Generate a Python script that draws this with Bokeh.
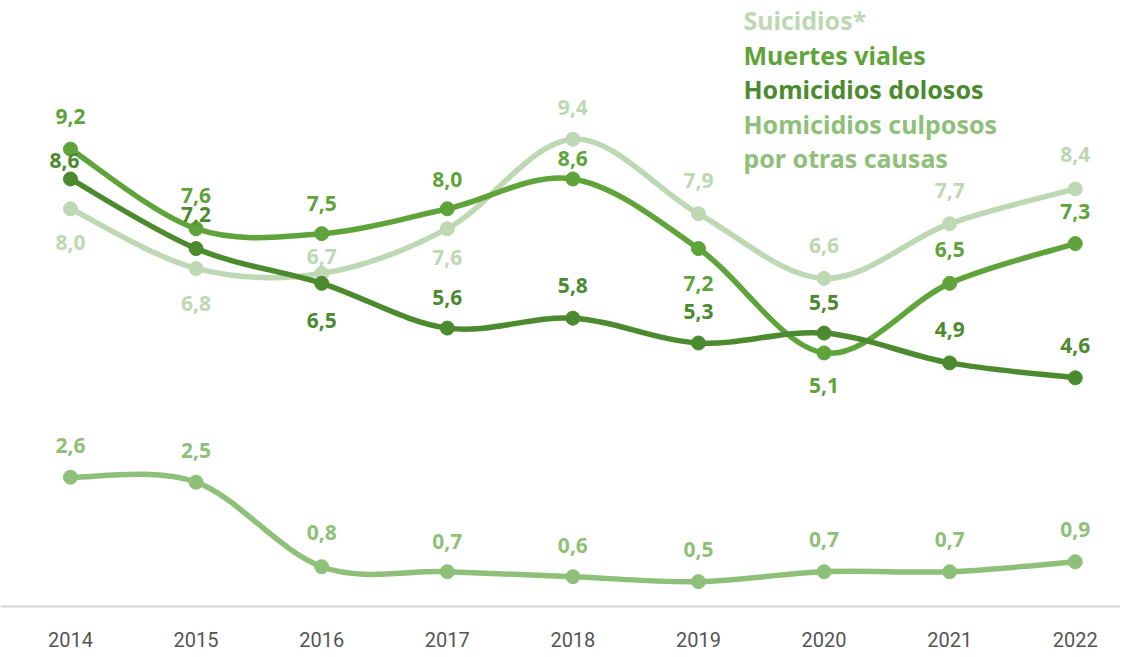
from bokeh.plotting import figure
from bokeh.models import Range1d, FixedTicker, Label, ColumnDataSource
from bokeh.core.properties import value
from bokeh.embed import file_html
from bokeh.resources import INLINE

years = [2014, 2015, 2016, 2017, 2018, 2019, 2020, 2021, 2022]
suicidios = [8.0, 6.8, 6.7, 7.6, 9.4, 7.9, 6.6, 7.7, 8.4]
muertes_viales = [9.2, 7.6, 7.5, 8.0, 8.6, 7.2, 5.1, 6.5, 7.3]
homicidios_dolosos = [8.6, 7.2, 6.5, 5.6, 5.8, 5.3, 5.5, 4.9, 4.6]
homicidios_culposos = [2.6, 2.5, 0.8, 0.7, 0.6, 0.5, 0.7, 0.7, 0.9]
legend_labels = ["Suicidios*", "Muertes viales", "Homicidios dolosos",
                 "Homicidios culposos", "por otras causas"]

# styles (colour, label pixel offsets: negative y = above the point)
series = [
    (suicidios, "#bdd8b3", [34, 35, -17, 29, -32, -33, -33, -33, -34], [0, 0, 0, 0, 0, 0, 0, 0, 0]),
    (muertes_viales, "#5fa33b", [-33, -33, -30, -29, -20, 35, 33, -34, -32], [0, 0, 0, 0, 0, 0, 0, 0, 0]),
    (homicidios_dolosos, "#4c8a2f", [-18, -34, 37, -31, -33, -32, -31, -33, -32], [-6, 0, 0, 0, 0, 0, 0, 0, 0]),
    (homicidios_culposos, "#8fc079", [-32, -32, -34, -30, -31, -32, -32, -32, -32], [0, 0, 0, 0, 0, 0, 0, 0, 0]),
]
legend_colors = ["#bdd8b3", "#5fa33b", "#4c8a2f", "#8fc079", "#8fc079"]

p = figure(width=1120, height=657, output_backend="svg", toolbar_location=None,
           x_range=Range1d(2013.443, 2022.36), y_range=Range1d(-1.026, 12.19),
           min_border_left=0, min_border_right=0, min_border_top=0, min_border_bottom=0)
p.outline_line_color = None
p.grid.visible = False
p.yaxis.visible = False
p.background_fill_color = "white"
p.border_fill_color = "white"

xa = p.xaxis[0]
xa.fixed_location = 0
xa.ticker = FixedTicker(ticks=years)
xa.axis_line_color = "#d6d6d6"
xa.axis_line_width = 2
xa.major_tick_line_color = None
xa.minor_tick_line_color = None
xa.major_label_text_font = "Roboto"
xa.major_label_text_font_size = "20px"
xa.major_label_text_color = "#555555"
xa.major_label_standoff = 20


def catmull(xs, ys):
    n = len(xs)
    x0, y0, x1, y1, cx0, cy0, cx1, cy1 = [], [], [], [], [], [], [], []
    for i in range(n - 1):
        im = max(i - 1, 0)
        ip = min(i + 2, n - 1)
        x0.append(xs[i]); y0.append(ys[i])
        x1.append(xs[i + 1]); y1.append(ys[i + 1])
        cx0.append(xs[i] + (xs[i + 1] - xs[im]) / 6.0)
        cy0.append(ys[i] + (ys[i + 1] - ys[im]) / 6.0)
        cx1.append(xs[i + 1] - (xs[ip] - xs[i]) / 6.0)
        cy1.append(ys[i + 1] - (ys[ip] - ys[i]) / 6.0)
    return dict(x0=x0, y0=y0, x1=x1, y1=y1, cx0=cx0, cy0=cy0, cx1=cx1, cy1=cy1)


for vals, color, yoffs, xoffs in series:
    src = ColumnDataSource(catmull(years, vals))
    p.bezier(x0="x0", y0="y0", x1="x1", y1="y1", cx0="cx0", cy0="cy0", cx1="cx1", cy1="cy1",
             source=src, line_color=color, line_width=5.5)
    p.scatter(years, vals, size=14, fill_color=color, line_color=color)
    labels = [f"{v:.1f}".replace(".", ",") for v in vals]
    lsrc = ColumnDataSource(dict(x=years, y=vals, t=labels, yo=yoffs, xo=xoffs))
    p.text(x="x", y="y", text="t", source=lsrc, x_offset="xo", y_offset="yo",
           text_align="center", text_baseline="middle", text_color=color,
           text_font=value("Noto Sans"), text_font_style="bold", text_font_size="21px")

for i, (txt, c) in enumerate(zip(legend_labels, legend_colors)):
    p.add_layout(Label(x=2019.358, y=11.79 - i * 0.694, text=txt, text_color=c,
                       text_font="Noto Sans", text_font_style="bold", text_font_size="25px",
                       text_baseline="middle", text_align="left"))

open("out.html", "w").write(file_html(p, INLINE))
